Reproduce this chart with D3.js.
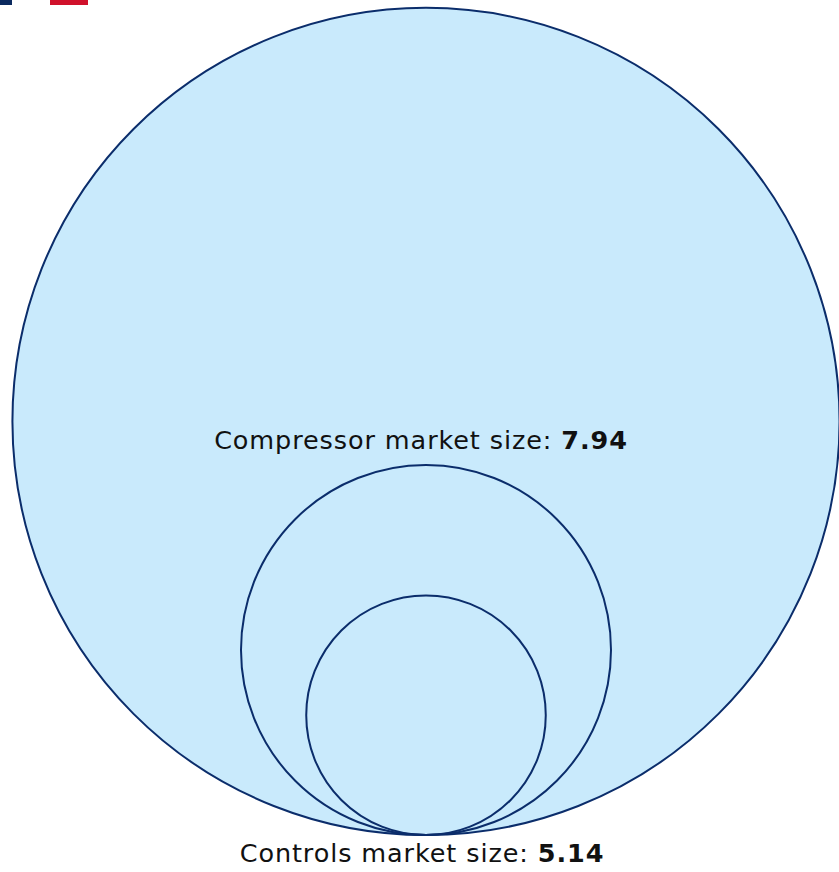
<!DOCTYPE html>
<html>
<head>
<meta charset="utf-8">
<script src="https://cdn.jsdelivr.net/npm/d3@7"></script>
<style>
  html, body { margin: 0; padding: 0; background: #ffffff; }
  svg { display: block; }
</style>
</head>
<body>
<div id="chart"></div>
<script>
// Nested market-size circles (USD bn), all resting on a common baseline
const names = ["Total market", "Compressor market size", "Controls market size"];
const values = [17.75, 7.94, 5.14];

// Legend swatches peeking in at the top edge
const legendColors = ["#0b2a5f", "#d0112b"];

const width = 839, height = 872;
const cx = 426, baseY = 835;

const svg = d3.select("#chart").append("svg")
  .attr("width", width).attr("height", height)
  .style("font-family", "'DejaVu Sans', Verdana, sans-serif");

// Radius grows linearly with market size
const r = d3.scaleLinear().domain([0, 1]).range([0, 23.3]);

svg.selectAll("circle.bubble")
  .data(values)
  .join("circle")
  .attr("class", "bubble")
  .attr("cx", cx)
  .attr("cy", d => baseY - r(d))
  .attr("r", d => r(d))
  .attr("fill", (d, i) => i === 0 ? "#c9eafc" : "none")
  .attr("stroke", "#0b2d6b")
  .attr("stroke-width", 2);

// Legend swatches
const legend = svg.append("g");
legend.selectAll("rect")
  .data(legendColors)
  .join("rect")
  .attr("x", (d, i) => i === 0 ? -26 : 50)
  .attr("y", -33)
  .attr("width", 38)
  .attr("height", 38)
  .attr("fill", d => d);

// Labels: compressor above the middle circle, controls below the baseline
function label(g, name, value) {
  const t = g.append("text")
    .attr("text-anchor", "middle")
    .attr("font-size", 25.5)
    .attr("letter-spacing", 0.9)
    .attr("fill", "#111");
  t.append("tspan").text(name + ": ");
  t.append("tspan").attr("font-weight", "bold").text(d3.format(".2f")(value));
  return t;
}

label(svg, names[1], values[1])
  .attr("x", 421)
  .attr("y", 449);

label(svg, names[2], values[2])
  .attr("x", 422)
  .attr("y", 862);
</script>
</body>
</html>
